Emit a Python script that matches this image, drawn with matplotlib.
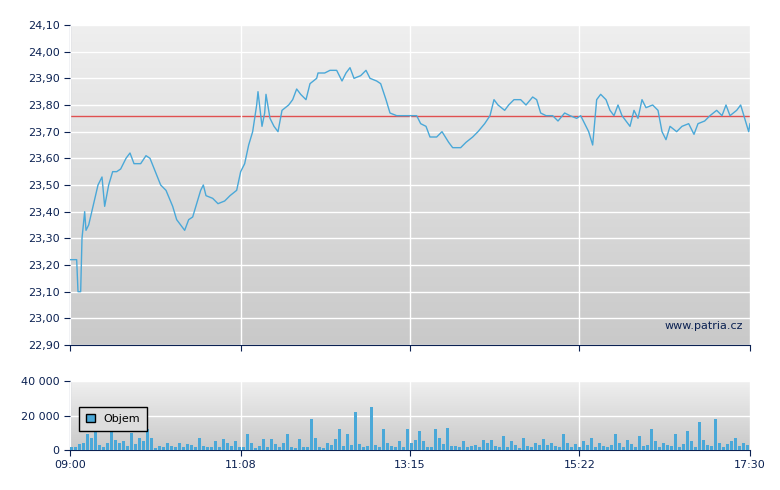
import matplotlib
matplotlib.use("Agg")
import matplotlib.pyplot as plt
import numpy as np
from matplotlib.patches import Patch
from matplotlib.ticker import FuncFormatter

# minutes after 09:00, price
price_t = [0,5,6,8,9,11,12,14,20,21,24,26,29,32,35,38,42,45,48,53,57,60,64,68,72,77,80,83,86,89,92,95,98,100,102,107,111,116,120,125,128,131,134,137,140,141,144,146,147,150,153,156,159,164,167,170,173,177,180,185,186,191,195,200,204,207,210,213,218,222,225,230,233,237,240,245,249,255,260,263,267,270,275,279,284,287,293,297,302,306,311,315,318,321,326,329,333,338,342,347,350,353,357,362,366,371,375,380,383,386,389,392,395,398,402,405,408,411,414,417,420,423,426,429,432,437,441,444,447,450,455,459,464,468,471,476,480,485,489,492,495,500,503,506,509,510]
price_v = [23.22,23.22,23.10,23.10,23.30,23.40,23.33,23.35,23.48,23.50,23.53,23.42,23.50,23.55,23.55,23.56,23.60,23.62,23.58,23.58,23.61,23.60,23.55,23.50,23.48,23.42,23.37,23.35,23.33,23.37,23.38,23.43,23.48,23.50,23.46,23.45,23.43,23.44,23.46,23.48,23.55,23.58,23.65,23.70,23.80,23.85,23.72,23.77,23.84,23.75,23.72,23.70,23.78,23.80,23.82,23.86,23.84,23.82,23.88,23.90,23.92,23.92,23.93,23.93,23.89,23.92,23.94,23.90,23.91,23.93,23.90,23.89,23.88,23.82,23.77,23.76,23.76,23.76,23.76,23.73,23.72,23.68,23.68,23.70,23.66,23.64,23.64,23.66,23.68,23.70,23.73,23.76,23.82,23.80,23.78,23.80,23.82,23.82,23.80,23.83,23.82,23.77,23.76,23.76,23.74,23.77,23.76,23.75,23.76,23.73,23.70,23.65,23.82,23.84,23.82,23.78,23.76,23.80,23.76,23.74,23.72,23.78,23.75,23.82,23.79,23.80,23.78,23.70,23.67,23.72,23.70,23.72,23.73,23.69,23.73,23.74,23.76,23.78,23.76,23.80,23.76,23.78,23.80,23.75,23.70,23.73]
ref_price = 23.76

# volume every 3 minutes
vol = [2000,1500,3500,4000,9000,7000,16000,3000,1500,4000,12000,6000,4000,5000,2500,10000,3500,7000,5000,12000,7000,1000,2500,1500,4000,2500,1500,4000,2000,3500,3000,1500,7000,2500,1500,2000,5000,1500,6500,4000,2500,5000,2000,1500,9500,4000,1000,2500,6500,1500,6500,3500,2000,4000,9000,1500,1000,6500,1500,2000,18000,7000,1500,1000,4000,3000,6500,12000,2500,9000,3000,22000,3500,1500,2500,25000,3000,1500,12000,4000,2500,1500,5000,2000,12000,4000,6000,11000,5000,2000,1500,12000,7000,3500,13000,2500,2500,1500,5000,1500,2500,3000,1500,6000,4000,6000,2500,1500,8000,2000,5000,3000,1000,7000,2500,1500,4000,3000,6500,3000,4000,2500,1500,9000,4000,2000,3500,1500,5000,3000,7000,2000,4000,2500,1500,3000,9000,4000,2000,6000,3500,1500,8000,2500,3000,12000,5000,1500,4000,3000,2500,9000,1500,3500,11000,5000,2000,16000,6000,3000,2500,18000,4000,1500,3500,5000,7000,2500,4000,3000,9000,6000,33000,7000]
vol_t = np.arange(len(vol)) * 3

tick_pos = [0,128,255,382,510]
tick_lab = ["09:00","11:08","13:15","15:22","17:30"]

navy = "#0b2152"
line_c = "#4aa8d8"
fig = plt.figure(figsize=(7.8,4.9), dpi=100)
ax = fig.add_axes([70/780, 1-345/490, 680/780, 320/490])
axv = fig.add_axes([70/780, 1-450/490, 680/780, 69/490])

def style(a, ylim):
    grad = np.linspace(0,1,256).reshape(-1,1)
    a.imshow(grad, extent=[0,510,ylim[0],ylim[1]], aspect='auto', origin='upper',
             cmap=matplotlib.colors.LinearSegmentedColormap.from_list('g',['#efefef','#c9c9c9']), zorder=0)
    a.set_xlim(0,510); a.set_ylim(*ylim)
    a.grid(True, color='white', lw=1, zorder=1)
    a.set_axisbelow(False)
    for s in ['top','right']: a.spines[s].set_visible(False)
    for s in ['left','bottom']: a.spines[s].set_color(navy)
    a.tick_params(colors=navy, labelsize=8, direction='out', length=4)
    a.set_xticks(tick_pos)

style(ax, (22.9, 24.1))
ax.set_yticks(np.round(np.arange(22.9, 24.101, 0.1), 2))
ax.yaxis.set_major_formatter(FuncFormatter(lambda v, p: f"{v:.2f}".replace('.', ',')))
ax.set_xticklabels([])
ax.plot(price_t, price_v, color=line_c, lw=1, zorder=3)
ax.axhline(ref_price, color='#e05050', lw=1, zorder=2)
ax.text(0.99, 0.06, "www.patria.cz", transform=ax.transAxes, ha='right', va='center', fontsize=8, color=navy, zorder=4)

style(axv, (0, 40000))
axv.set_yticks([0,20000,40000])
axv.set_yticklabels(["0","20 000","40 000"])
axv.set_xticklabels(tick_lab)
axv.bar(vol_t, vol, width=2.4, align='edge', color=line_c, zorder=3)
leg = axv.legend(handles=[Patch(facecolor=line_c, edgecolor='black', label='Objem')],
                 loc='center left', bbox_to_anchor=(0.005, 0.45), fontsize=8, fancybox=False,
                 handlelength=0.8, handleheight=0.8, borderpad=0.6, framealpha=1)
leg.get_frame().set_edgecolor('black'); leg.get_frame().set_facecolor('#dddddd')
leg.set_zorder(5)

fig.savefig("out.png", dpi=100)
